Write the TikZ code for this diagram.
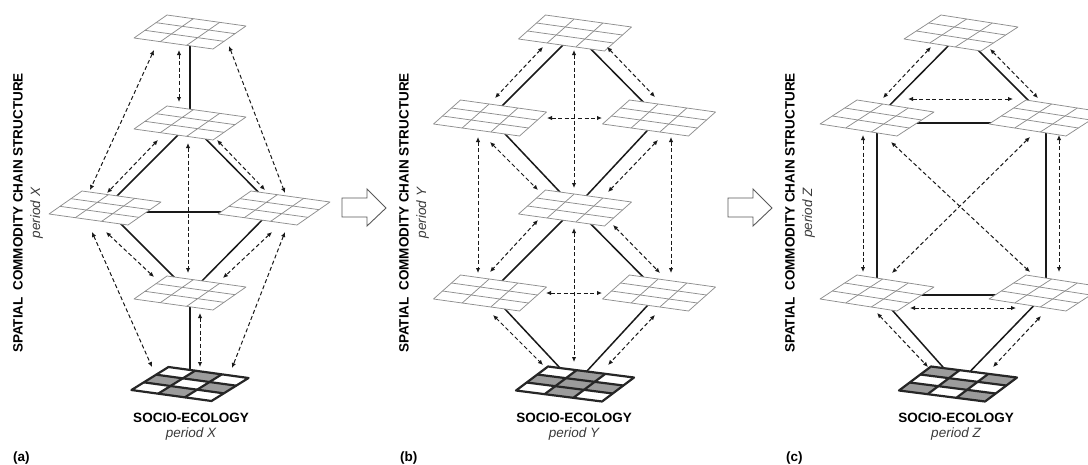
\documentclass[tikz,border=0pt]{standalone}
\usepackage{fontspec}
\setmainfont{Liberation Sans}
\usetikzlibrary{arrows.meta,calc}
\definecolor{gridgray}{HTML}{8E8E8E}
\definecolor{cellgray}{HTML}{9C9C9C}
\definecolor{txtgray}{HTML}{3A3A3A}
\tikzset{
  conn/.style={line width=1.5pt, black!90},
  dasharr/.style={line width=1pt, black!90, dash pattern=on 4pt off 2.6pt,
    {Latex[length=5pt,width=4.5pt]}-{Latex[length=5pt,width=4.5pt]}},
  gridln/.style={gridgray, line width=0.75pt, line join=round},
  socioln/.style={black!85, line width=2.2pt, line join=round},
  bigarrow/.style={draw=black!65, line width=0.9pt, fill=white, line join=miter},
  vtitle/.style={rotate=90, align=center, inner sep=0pt, font=\fontsize{13.5}{17.5}\selectfont},
  seclbl/.style={inner sep=0pt, font=\fontsize{13.5}{16}\selectfont\bfseries},
  perlbl/.style={inner sep=0pt, text=txtgray, font=\fontsize{13.5}{16}\selectfont\itshape},
  tag/.style={inner sep=0pt, anchor=west, font=\fontsize{13.5}{16}\selectfont\bfseries},
  pics/ccs/.style n args={4}{code={
    \begin{scope}[x={({#1pt/3},{-#2pt/3})}, y={({#3pt/3},{-#4pt/3})}]
      \fill[white] (-1.5,-1.5) -- (1.5,-1.5) -- (1.5,1.5) -- (-1.5,1.5) -- cycle;
      \foreach \k in {-0.5,0.5}{
        \draw[gridln] (\k,-1.5) -- (\k,1.5);
        \draw[gridln] (-1.5,\k) -- (1.5,\k);}
      \draw[gridln] (-1.5,-1.5) -- (1.5,-1.5) -- (1.5,1.5) -- (-1.5,1.5) -- cycle;
    \end{scope}}},
  pics/socio/.style n args={5}{code={
    \begin{scope}[x={({#1pt/3},{-#2pt/3})}, y={({#3pt/3},{-#4pt/3})}]
      \fill[white] (-1.5,-1.5) -- (1.5,-1.5) -- (1.5,1.5) -- (-1.5,1.5) -- cycle;
      \foreach \i/\j in {#5}{
        \fill[cellgray] (\i-1.5,\j-1.5) -- (\i-0.5,\j-1.5) -- (\i-0.5,\j-0.5) -- (\i-1.5,\j-0.5) -- cycle;}
      \foreach \k in {-0.5,0.5}{
        \draw[socioln] (\k,-1.5) -- (\k,1.5);
        \draw[socioln] (-1.5,\k) -- (1.5,\k);}
      \draw[socioln] (-1.5,-1.5) -- (1.5,-1.5) -- (1.5,1.5) -- (-1.5,1.5) -- cycle;
    \end{scope}}},
}
\begin{document}
\begin{tikzpicture}[x=1pt,y=-1pt]
\useasboundingbox (0,0) rectangle (1088,464);
% ---------- grid centres ----------
\coordinate (A1) at (190,32);
\coordinate (A2) at (190,123);
\coordinate (A3) at (105,208);
\coordinate (A4) at (274,208);
\coordinate (A5) at (190,293);
\coordinate (A6) at (190,384);
\coordinate (B1) at (575,33);
\coordinate (B2) at (490,118);
\coordinate (B3) at (659,118);
\coordinate (B4) at (575,208);
\coordinate (B5) at (490,293);
\coordinate (B6) at (659,293);
\coordinate (B7) at (575,384);
\coordinate (C1) at (961,33);
\coordinate (C2) at (877,118);
\coordinate (C3) at (1046,118);
\coordinate (C4) at (877,293);
\coordinate (C5) at (1046,293);
\coordinate (C6) at (958,384);
% ---------- solid links (behind grids) ----------
\draw[conn] (A1) -- (A2);
\draw[conn] (A2) -- (A3);
\draw[conn] (A2) -- (A4);
\draw[conn] ($(A3)+(0,4)$) -- ($(A4)+(0,4)$);
\draw[conn] (A3) -- (A5);
\draw[conn] (A4) -- (A5);
\draw[conn] (A5) -- (A6);
\draw[conn] (B1) -- (B2);
\draw[conn] (B1) -- (B3);
\draw[conn] (B2) -- (B4);
\draw[conn] (B3) -- (B4);
\draw[conn] (B4) -- (B5);
\draw[conn] (B4) -- (B6);
\draw[conn] (B5) -- (B7);
\draw[conn] (B6) -- (B7);
\draw[conn] (C1) -- (C2);
\draw[conn] (C1) -- (C3);
\draw[conn] ($(C2)+(0,5)$) -- ($(C3)+(0,5)$);
\draw[conn] (C2) -- (C4);
\draw[conn] (C3) -- (C5);
\draw[conn] ($(C4)+(0,2)$) -- ($(C5)+(0,2)$);
\draw[conn] (C4) -- (C6);
\draw[conn] (C5) -- (C6);
% ---------- grids ----------
\foreach \g in {A1,A2,A3,A4,A5}{\pic at (\g) {ccs={79}{11}{-33}{23}};}
\foreach \g in {B1,B2,B3,B4,B5,B6}{\pic at (\g) {ccs={86}{12}{-27}{24}};}
\foreach \g in {C1,C2,C3,C4,C5}{\pic at (\g) {ccs={77}{12}{-37}{24}};}
\pic at (A6) {socio={80}{11}{-37}{23}{1/0,0/1,2/1,1/2}};
\pic at (B7) {socio={86}{11}{-32}{24}{1/0,0/1,1/1,2/1,1/2}};
\pic at (C6) {socio={86}{11}{-32}{24}{0/0,2/0,1/1,0/2,2/2}};
% ---------- dashed two-way links: panel a ----------
\draw[dasharr] ($(A1)+(-36,18)$) -- ($(A3)+(-15,-18)$);
\draw[dasharr] ($(A1)+(-11,18)$) -- ($(A2)+(-11,-21)$);
\draw[dasharr] ($(A1)+(39,14)$) -- ($(A4)+(11,-15)$);
\draw[dasharr] ($(A2)+(-32,17)$) -- ($(A3)+(2,-15)$);
\draw[dasharr] ($(A2)+(27,17)$) -- ($(A4)+(-9,-18)$);
\draw[dasharr] ($(A2)+(-2,20)$) -- ($(A5)+(-2,-20)$);
\draw[dasharr] ($(A3)+(-13,24)$) -- ($(A6)+(-38,-17)$);
\draw[dasharr] ($(A3)+(1,24)$) -- ($(A5)+(-36,-16)$);
\draw[dasharr] ($(A4)+(-2,24)$) -- ($(A5)+(33,-15)$);
\draw[dasharr] ($(A4)+(11,24)$) -- ($(A6)+(42,-16)$);
\draw[dasharr] ($(A5)+(10,20)$) -- ($(A6)+(10,-17)$);
% ---------- panel b ----------
\draw[dasharr] ($(B1)+(-32,14)$) -- ($(B2)+(5,-20)$);
\draw[dasharr] ($(B1)+(-1,17)$) -- ($(B4)+(-1,-20)$);
\draw[dasharr] ($(B1)+(32,14)$) -- ($(B3)+(-4,-21)$);
\draw[dasharr] ($(B2)+(57,0)$) -- ($(B3)+(-57,0)$);
\draw[dasharr] ($(B2)+(-12,19)$) -- ($(B5)+(-12,-20)$);
\draw[dasharr] ($(B2)+(0,24)$) -- ($(B4)+(-37,-18)$);
\draw[dasharr] ($(B3)+(-1,22)$) -- ($(B4)+(33,-16)$);
\draw[dasharr] ($(B3)+(12,19)$) -- ($(B6)+(12,-20)$);
\draw[dasharr] ($(B4)+(-37,12)$) -- ($(B5)+(0,-21)$);
\draw[dasharr] ($(B4)+(-1,20)$) -- ($(B7)+(-1,-22)$);
\draw[dasharr] ($(B4)+(38,17)$) -- ($(B6)+(1,-20)$);
\draw[dasharr] ($(B5)+(56,0)$) -- ($(B6)+(-57,0)$);
\draw[dasharr] ($(B5)+(3,22)$) -- ($(B7)+(-32,-19)$);
\draw[dasharr] ($(B6)+(-4,22)$) -- ($(B7)+(33,-19)$);
% ---------- panel c ----------
\draw[dasharr] ($(C1)+(-30,14)$) -- ($(C2)+(6,-20)$);
\draw[dasharr] ($(C1)+(29,16)$) -- ($(C3)+(-8,-20)$);
\draw[dasharr] ($(C2)+(31,-19)$) -- ($(C3)+(-33,-19)$);
\draw[dasharr] ($(C2)+(-14,17)$) -- ($(C4)+(-14,-21)$);
\draw[dasharr] ($(C3)+(13,17)$) -- ($(C5)+(13,-21)$);
\draw[dasharr] ($(C2)+(14,24)$) -- ($(C5)+(-16,-21)$);
\draw[dasharr] ($(C3)+(-16,19)$) -- ($(C4)+(15,-20)$);
\draw[dasharr] ($(C4)+(33,15)$) -- ($(C5)+(-30,15)$);
\draw[dasharr] ($(C4)+(0,20)$) -- ($(C6)+(-30,-17)$);
\draw[dasharr] ($(C5)+(-5,23)$) -- ($(C6)+(35,-17)$);
% ---------- hollow arrows between panels ----------
\draw[bigarrow] (342,198) -- (367,198) -- (367,189) -- (386,208) -- (367,226) -- (367,217) -- (342,217) -- cycle;
\draw[bigarrow] (728,198) -- (753,198) -- (753,189) -- (772,208) -- (753,226) -- (753,217) -- (728,217) -- cycle;
% ---------- texts ----------
\node[vtitle] (ta) at (28,213) {\textbf{SPATIAL\hspace{0.2em} COMMODITY CHAIN STRUCTURE}\\\textcolor{txtgray}{\itshape period X}};
\node[vtitle] (tb) at (414,213) {\textbf{SPATIAL\hspace{0.2em} COMMODITY CHAIN STRUCTURE}\\\textcolor{txtgray}{\itshape period Y}};
\node[vtitle] (tc) at (800,213) {\textbf{SPATIAL\hspace{0.2em} COMMODITY CHAIN STRUCTURE}\\\textcolor{txtgray}{\itshape period Z}};
\node[seclbl] (sa) at (191,418) {SOCIO-ECOLOGY};
\node[perlbl] (pa) at (191,434) {period X};
\node[seclbl] (sb) at (574,418) {SOCIO-ECOLOGY};
\node[perlbl] (pb) at (574,434) {period Y};
\node[seclbl] (sc) at (956,418) {SOCIO-ECOLOGY};
\node[perlbl] (pc) at (956,434) {period Z};
\node[tag] (la) at (13,458) {(a)};
\node[tag] (lb) at (400,458) {(b)};
\node[tag] (lc) at (786,458) {(c)};
\end{tikzpicture}
\end{document}
